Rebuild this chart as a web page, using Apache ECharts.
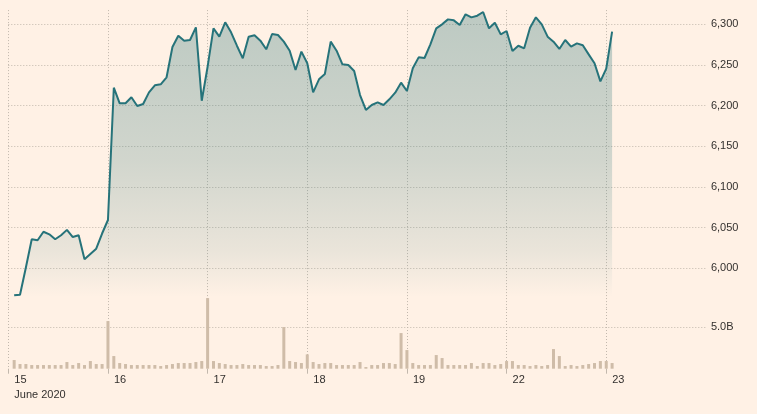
<!DOCTYPE html>
<html>
<head>
<meta charset="utf-8">
<script src="https://cdn.jsdelivr.net/npm/echarts@6/dist/echarts.min.js"></script>
<style>
html,body{margin:0;padding:0;background:#fff1e5;}
#chart{width:757px;height:414px;}
</style>
</head>
<body>
<div id="chart"></div>
<script>
// Trading days shown on the x axis
const dayLabels = ['15', '16', '17', '18', '19', '22', '23'];
const monthLabel = 'June 2020';
const slotsPerDay = 17;

// Price (index level), one value per intraday slot; first slot of 15th has no data
const price = [null,
  5966.8, 5967.6, 6001, 6035.7, 6034.5, 6045.0, 6041.8, 6035.7, 6040.7, 6047.3, 6038.5, 6040.7, 6011.1, 6017.6, 6024.1, 6042.8, 6059.4,
  6222.1, 6202.9, 6202.9, 6210.3, 6199.6, 6202.0, 6216.4, 6225.0, 6226.3, 6234.9, 6272.1, 6286.0, 6279.9, 6280.7, 6296.3, 6206.1, 6247.9,
  6295.1, 6284.8, 6302.5, 6290.2, 6273.7, 6258.2, 6284.8, 6286.5, 6279.9, 6269.3, 6288.1, 6286.9, 6278.7, 6267.6, 6243.8, 6266.4, 6252.1,
  6216.4, 6232.4, 6238.9, 6278.7, 6267.6, 6250.8, 6250.0, 6242.6, 6213.1, 6194.7, 6200.8, 6204.1, 6200.8, 6207.8, 6216.0, 6228.3, 6218.0,
  6245.9, 6259.4, 6258.6, 6275.4, 6295.1, 6300.0, 6306.1, 6304.9, 6299.2, 6312.3, 6308.6, 6310.6, 6315.2, 6295.1, 6302.0, 6287.7, 6291.8,
  6267.2, 6273.7, 6270.5, 6295.9, 6308.6, 6300.0, 6284.8, 6278.7, 6269.7, 6280.7, 6272.5, 6276.6, 6274.2, 6263.1, 6252.1, 6229.9, 6245.5,
  6291.0
];

// Volume in billions, same slots
const volume = [null,
  1.04, 0.56, 0.56, 0.44, 0.44, 0.44, 0.44, 0.44, 0.44, 0.80, 0.44, 0.68, 0.44, 0.92, 0.56, 0.56, 5.72,
  1.52, 0.68, 0.56, 0.44, 0.44, 0.44, 0.44, 0.44, 0.32, 0.44, 0.56, 0.68, 0.68, 0.68, 0.80, 0.92, 8.48,
  0.92, 0.68, 0.56, 0.44, 0.44, 0.56, 0.44, 0.44, 0.44, 0.32, 0.32, 0.44, 5.00, 0.92, 0.80, 0.68, 1.72,
  0.80, 0.56, 0.68, 0.68, 0.44, 0.44, 0.44, 0.44, 0.80, 0.20, 0.44, 0.44, 0.68, 0.68, 0.56, 4.28, 2.24,
  0.68, 0.44, 0.44, 0.44, 1.64, 1.28, 0.44, 0.44, 0.44, 0.44, 0.68, 0.32, 0.68, 0.68, 0.44, 0.56, 0.92,
  0.92, 0.44, 0.44, 0.32, 0.44, 0.32, 0.44, 2.36, 1.52, 0.32, 0.44, 0.32, 0.44, 0.56, 0.68, 0.92, 0.92,
  0.68
];

// Category slots: 17 per day plus closing boundary
const categories = [];
dayLabels.forEach(d => { for (let k = 0; k < slotsPerDay; k++) categories.push(d + ' ' + k); });
categories.push('end');
const lastIdx = categories.length - 1;
const isDayStart = (i) => i % slotsPerDay === 0 && i < lastIdx;

const gridColor = '#c2b8ad';
const textColor = '#33302e';
const font = 'Liberation Sans, Arial, sans-serif';

const chart = echarts.init(document.getElementById('chart'), null, {renderer: 'canvas'});
chart.setOption({
  animation: false,
  backgroundColor: '#fff1e5',
  grid: [
    {left: 8.3, right: 51.1, top: 10.1, bottom: 105},
    {left: 8.3, right: 51.1, top: 309, bottom: 45.3}
  ],
  xAxis: [
    {
      type: 'category', gridIndex: 0, data: categories, boundaryGap: false,
      axisLine: {show: false}, axisTick: {show: false}, axisLabel: {show: false},
      splitLine: {show: true, interval: isDayStart, lineStyle: {color: gridColor, type: [1, 2], width: 1}}
    },
    {
      type: 'category', gridIndex: 1, data: categories, boundaryGap: false,
      axisLine: {show: false},
      axisTick: {show: true, interval: isDayStart, length: 5, lineStyle: {color: gridColor, width: 1}},
      splitLine: {show: true, interval: isDayStart, lineStyle: {color: gridColor, type: [1, 2], width: 1}},
      axisLabel: {
        show: true, interval: isDayStart, align: 'left', padding: [0, 0, 0, 6], margin: 4,
        color: textColor, fontFamily: font, fontSize: 11, lineHeight: 15,
        formatter: (v, i) => {
          const d = v.split(' ')[0];
          return d === dayLabels[0] ? d + '\n' + monthLabel : d;
        }
      }
    }
  ],
  yAxis: [
    {
      type: 'value', gridIndex: 0, position: 'right', min: 5950, max: 6317.5, interval: 50,
      axisLine: {show: false}, axisTick: {show: false},
      splitLine: {show: true, showMinLine: false, showMaxLine: false, lineStyle: {color: gridColor, type: [1, 2], width: 1}},
      axisLabel: {
        showMinLabel: false, showMaxLabel: false, margin: 5, color: textColor, fontFamily: font, fontSize: 11,
        formatter: v => Math.round(v).toLocaleString('en-US')
      }
    },
    {
      type: 'value', gridIndex: 1, position: 'right', min: 0, max: 7.17, interval: 5,
      axisLine: {show: false}, axisTick: {show: false},
      splitLine: {show: true, showMinLine: false, showMaxLine: false, lineStyle: {color: gridColor, type: [1, 2], width: 1}},
      axisLabel: {
        showMinLabel: false, showMaxLabel: false, margin: 5, color: textColor, fontFamily: font, fontSize: 11,
        formatter: v => v.toFixed(1) + 'B'
      }
    }
  ],
  series: [
    {
      type: 'line', xAxisIndex: 0, yAxisIndex: 0, data: price,
      showSymbol: false, symbol: 'none', connectNulls: false,
      lineStyle: {color: '#26737a', width: 2},
      areaStyle: {
        origin: 'start',
        color: new echarts.graphic.LinearGradient(0, 0, 0, 1, [
          {offset: 0, color: 'rgba(38,112,116,0.44)'},
          {offset: 0.5, color: 'rgba(38,112,116,0.3)'},
          {offset: 0.8, color: 'rgba(38,112,116,0.14)'},
          {offset: 0.96, color: 'rgba(38,112,116,0)'},
          {offset: 1, color: 'rgba(38,112,116,0)'}
        ])
      },
      z: 3
    },
    {
      type: 'bar', xAxisIndex: 1, yAxisIndex: 1, data: volume,
      barWidth: 3, clip: false,
      itemStyle: {color: '#cfbca8'},
      z: 2
    }
  ]
});
</script>
</body>
</html>
